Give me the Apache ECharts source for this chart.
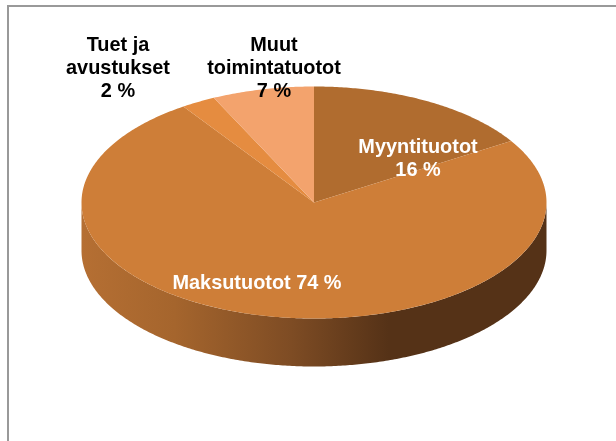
<!DOCTYPE html>
<html>
<head>
<meta charset="utf-8">
<style>
  html, body { margin: 0; padding: 0; background: #fff; }
  #main { width: 616px; height: 441px; }
</style>
<script src="https://cdn.jsdelivr.net/npm/echarts@6/dist/echarts.min.js"></script>
</head>
<body>
<div id="main"></div>
<script>
// shares, clockwise from 12 o'clock
const categories = ['Myyntituotot', 'Maksutuotot', 'Tuet ja\navustukset', 'Muut\ntoimintatuotot'];
const shares = [16.1, 74.4, 2.4, 7.1];
const labelSeparators = ['\n', ' ', '\n', '\n'];

// drawing setup
const colors = ['#B06C2F', '#CE7E38', '#E58C40', '#F3A36D'];
const labelColors = ['#fff', '#fff', '#000', '#000'];
const labelSpots = [[418, 159], [257, 284], [118, 69], [274, 69]];
const cx = 314, cy = 202.5, rx = 232.5, ry = 116, depth = 48;

const total = shares.reduce((a, b) => a + b, 0);
const rad = v => v / total * Math.PI * 2;
const starts = [];
shares.reduce((sum, v, i) => { starts[i] = sum; return sum + v; }, 0);

// angle is clockwise from the top
const pt = (a, dy) => [cx + rx * Math.sin(a), cy - ry * Math.cos(a) + (dy || 0)];

function arc(a0, a1, dy) {
  const pts = [];
  const n = Math.max(2, Math.ceil((a1 - a0) / 0.01));
  for (let i = 0; i <= n; i++) pts.push(pt(a0 + (a1 - a0) * i / n, dy));
  return pts;
}

function renderSlice(params, api) {
  const i = params.dataIndex;
  const a0 = rad(starts[i]);
  const a1 = a0 + rad(api.value(0));
  const children = [];

  // side wall, only the front half of the ellipse shows
  const s0 = Math.max(a0, Math.PI / 2);
  const s1 = Math.min(a1, Math.PI * 1.5);
  if (s1 > s0) {
    children.push({
      type: 'polygon',
      shape: { points: arc(s0, s1, 0).concat(arc(s0, s1, depth).reverse()) },
      style: {
        fill: new echarts.graphic.LinearGradient(0, 0, 1, 0, [
          { offset: 0, color: '#B56F33' },
          { offset: 0.2, color: '#A5652D' },
          { offset: 0.45, color: '#7E4C24' },
          { offset: 0.66, color: '#553217' },
          { offset: 1, color: '#553217' }
        ], false)
      }
    });
  }

  children.push({
    type: 'polygon',
    shape: { points: [[cx, cy]].concat(arc(a0, a1, 0)) },
    style: { fill: colors[i] }
  });

  children.push({
    type: 'text',
    z2: 10,
    style: {
      x: labelSpots[i][0],
      y: labelSpots[i][1],
      text: categories[i] + labelSeparators[i] + api.value(0).toFixed(0) + ' %',
      fill: labelColors[i],
      font: 'bold 19.9px "Liberation Sans", Arial, sans-serif',
      lineHeight: 23,
      align: 'center',
      verticalAlign: 'middle'
    }
  });

  return { type: 'group', children: children };
}

const chart = echarts.init(document.getElementById('main'), null, { renderer: 'canvas' });
chart.setOption({
  animation: false,
  backgroundColor: '#fff',
  graphic: [
    { type: 'rect', shape: { x: 7, y: 5, width: 609, height: 2 }, style: { fill: '#999' } },
    { type: 'rect', shape: { x: 7, y: 5, width: 2, height: 436 }, style: { fill: '#999' } }
  ],
  series: [{
    type: 'custom',
    coordinateSystem: 'none',
    renderItem: renderSlice,
    data: shares.map(v => [v]),
    silent: true
  }]
});
</script>
</body>
</html>
